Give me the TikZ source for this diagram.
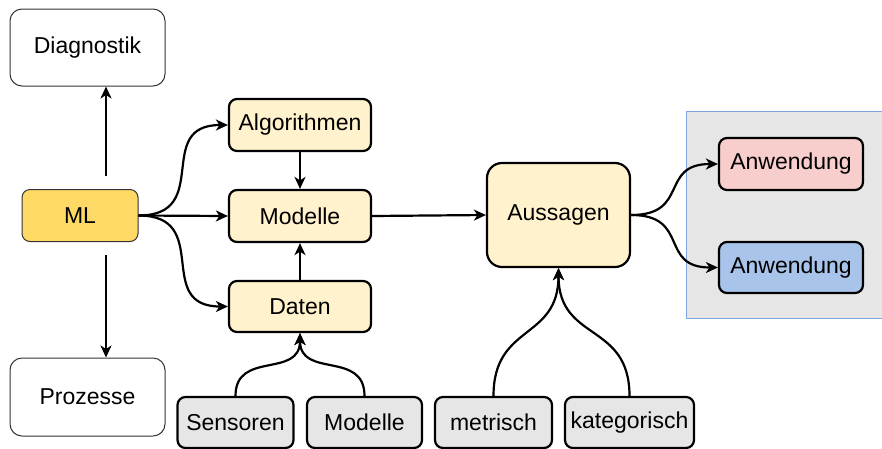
\documentclass[tikz,border=0pt]{standalone}
\usepackage{fontspec}
\setmainfont{Liberation Sans}
\usetikzlibrary{arrows.meta}
\definecolor{mlfill}{HTML}{FFD966}
\definecolor{yfill}{HTML}{FFF2CC}
\definecolor{gfill}{HTML}{E6E6E6}
\definecolor{rfill}{HTML}{F8CECC}
\definecolor{bfill}{HTML}{A9C4EB}
\definecolor{cborder}{HTML}{7EA6E0}
\tikzset{
  box/.style={draw=black, rectangle, rounded corners=8pt, align=center, inner sep=0pt,
    font=\fontsize{23}{27}\selectfont},
  whitebox/.style={box, line width=1pt, draw=black!80, fill=white, rounded corners=12pt},
  mlbox/.style={box, line width=1pt, draw=black!80, fill=mlfill},
  ybox/.style={box, line width=2.2pt, fill=yfill},
  gbox/.style={box, line width=2.2pt, fill=gfill},
  arr/.style={line width=2.2pt, -{Stealth[length=12pt, width=11pt, inset=3.5pt]}},
}
\begin{document}
\begin{tikzpicture}[x=1pt, y=-1pt]
\useasboundingbox (0,0) rectangle (882,448);
% container
\node[draw=cborder, line width=1pt, fill=gfill, minimum width=198pt, minimum height=207pt, inner sep=0pt] (cont) at (785.5,214.5) {};

\node[whitebox, minimum width=155pt, minimum height=77pt] (diag) at (87.5,47.5) {Diagnostik};
\node[whitebox, minimum width=155pt, minimum height=78pt] (proz) at (87.5,397) {Prozesse};
\node[mlbox, minimum width=116pt, minimum height=52pt] (ml) at (80,215.5) {ML};

\node[ybox, minimum width=142pt, minimum height=52pt] (algo) at (300,125) {Algorithmen};
\node[ybox, minimum width=142pt, minimum height=52pt] (mod) at (300,216) {Modelle};
\node[ybox, minimum width=142pt, minimum height=51pt] (dat) at (300,306.5) {Daten};
\node[ybox, rounded corners=15pt, minimum width=143pt, minimum height=104pt] (aus) at (558.5,215) {Aussagen};

\node[box, line width=2.2pt, fill=rfill, minimum width=144pt, minimum height=52pt] (anw1) at (791,164) {Anwendung};
\node[box, line width=2.2pt, fill=bfill, minimum width=144pt, minimum height=51pt] (anw2) at (791,267.5) {Anwendung};

\node[gbox, minimum width=116pt, minimum height=51pt] (sen) at (235.5,422.5) {Sensoren};
\node[gbox, minimum width=115pt, minimum height=51pt] (mod2) at (364.5,422.5) {Modelle};
\node[gbox, minimum width=117pt, minimum height=51pt] (met) at (493.5,422.5) {metrisch};
\node[gbox, minimum width=129pt, minimum height=51pt] (kat) at (629.5,422.5) {kategorisch};

% ML up/down arrows
\coordinate (mlu) at (106,176);
\coordinate (mld) at (106,255);
\draw[arr] (mlu) -- (mlu |- diag.south);
\draw[arr] (mld) -- (mld |- proz.north);

% ML to the three
\draw[arr] (ml.east) to[out=0, in=180, looseness=1.5] (algo.west);
\draw[arr] (ml.east) -- (mod.west);
\draw[arr] (ml.east) to[out=0, in=180, looseness=1.5] (dat.west);

\draw[arr] (algo.south) -- (mod.north);
\draw[arr] (dat.north) -- (mod.south);
\draw[arr] (mod.east) -- (aus.west);

\draw[arr] (aus.east) to[out=0, in=180, looseness=1.5] (anw1.west);
\draw[arr] (aus.east) to[out=0, in=180, looseness=1.5] (anw2.west);

\draw[arr] (sen.north) to[out=90, in=-90, looseness=1.3] (dat.south);
\draw[arr] (mod2.north) to[out=90, in=-90, looseness=1.3] (dat.south);
\draw[arr] (met.north) to[out=90, in=-90, looseness=1.3] (aus.south);
\draw[arr] (kat.north) to[out=90, in=-90, looseness=1.3] (aus.south);
\end{tikzpicture}
\end{document}
